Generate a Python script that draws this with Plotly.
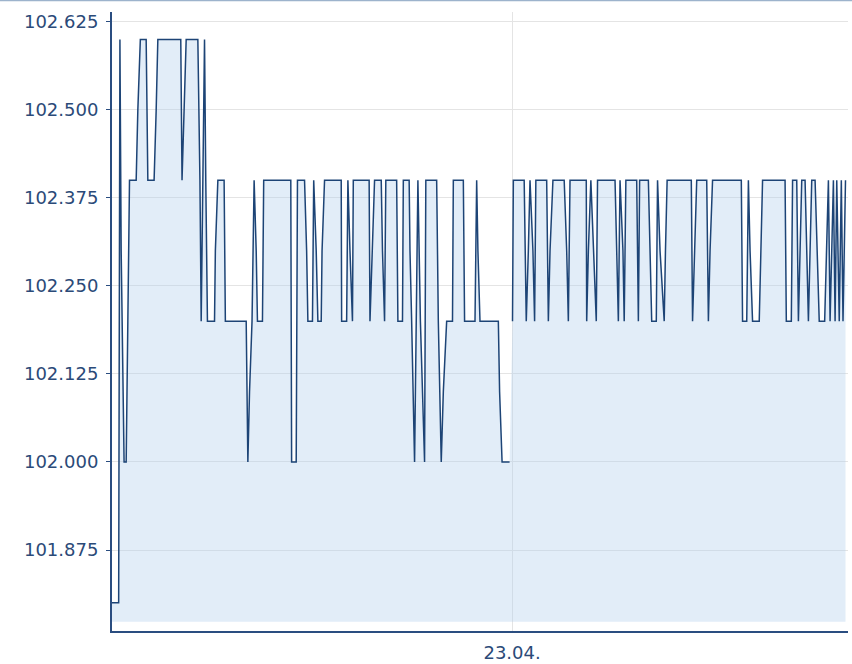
import pandas as pd
import plotly.graph_objects as go

# ---- data (minutes after midnight of each day, price) ----
DAY1_DATE = "2024-04-22"
DAY1_MIN = [480, 496, 499, 502, 509, 514, 518, 522, 538, 542, 548, 562, 566, 581, 586, 590,
            645, 648, 653, 658, 686, 691, 694, 702, 705, 709, 726, 728, 734, 749, 752, 802,
            806, 810, 816, 821, 826, 829, 841, 844, 909, 911, 922, 925, 942, 947, 950, 961,
            964, 970, 974, 982, 984, 990, 1030, 1031, 1043, 1046, 1051, 1057, 1059, 1097,
            1099, 1105, 1110, 1126, 1129, 1134, 1137, 1163, 1166, 1177, 1179, 1193, 1195,
            1199, 1206, 1210, 1214, 1220, 1230, 1233, 1259, 1263, 1270, 1275, 1283, 1297,
            1299, 1323, 1326, 1351, 1355, 1358, 1363, 1407, 1410, 1416, 1434]
DAY1_VAL = [101.8, 101.8, 102.6, 102.3, 102.0, 102.0, 102.2, 102.4, 102.4, 102.5, 102.6, 102.6,
            102.4, 102.4, 102.5, 102.6, 102.6, 102.4, 102.5, 102.6, 102.6, 102.4, 102.2, 102.6,
            102.4, 102.2, 102.2, 102.3, 102.4, 102.4, 102.2, 102.2, 102.0, 102.1, 102.2, 102.4,
            102.3, 102.2, 102.2, 102.4, 102.4, 102.0, 102.0, 102.4, 102.4, 102.3, 102.2, 102.2,
            102.4, 102.3, 102.2, 102.2, 102.3, 102.4, 102.4, 102.2, 102.2, 102.4, 102.3, 102.2,
            102.4, 102.4, 102.2, 102.3, 102.4, 102.4, 102.3, 102.2, 102.4, 102.4, 102.2, 102.2,
            102.4, 102.4, 102.3, 102.2, 102.0, 102.2, 102.4, 102.2, 102.0, 102.4, 102.4, 102.2,
            102.0, 102.1, 102.2, 102.2, 102.4, 102.4, 102.2, 102.2, 102.4, 102.3, 102.2, 102.2,
            102.1, 102.0, 102.0]

DAY2_DATE = "2024-04-23"
DAY2_MIN = [1, 3, 29, 34, 39, 43, 50, 54, 57, 83, 87, 91, 98, 125, 131, 135, 139, 178, 179,
            183, 189, 195, 202, 205, 247, 251, 255, 259, 266, 269, 273, 299, 301, 303, 306,
            327, 331, 335, 346, 349, 355, 365, 368, 372, 430, 433, 438, 443, 467, 471, 475,
            481, 550, 553, 563, 567, 571, 577, 593, 597, 601, 655, 658, 670, 673, 683, 687,
            691, 695, 703, 711, 715, 719, 727, 732, 737, 750, 755, 759, 763, 767, 771, 775,
            779, 785, 790, 794, 797, 800]
DAY2_VAL = [102.2, 102.4, 102.4, 102.2, 102.3, 102.4, 102.3, 102.2, 102.4, 102.4, 102.2, 102.3,
            102.4, 102.4, 102.3, 102.2, 102.4, 102.4, 102.2, 102.3, 102.4, 102.3, 102.2, 102.4,
            102.4, 102.3, 102.2, 102.4, 102.3, 102.2, 102.4, 102.4, 102.3, 102.2, 102.4, 102.4,
            102.3, 102.2, 102.2, 102.4, 102.3, 102.2, 102.3, 102.4, 102.4, 102.2, 102.3, 102.4,
            102.4, 102.2, 102.3, 102.4, 102.4, 102.2, 102.2, 102.4, 102.3, 102.2, 102.2, 102.3,
            102.4, 102.4, 102.2, 102.2, 102.4, 102.4, 102.2, 102.3, 102.4, 102.4, 102.2, 102.3,
            102.4, 102.4, 102.3, 102.2, 102.2, 102.3, 102.4, 102.2, 102.3, 102.4, 102.2, 102.4,
            102.2, 102.4, 102.2, 102.3, 102.4]

FILL_BASE = 101.773
Y_RANGE = [101.760, 102.639]
Y_TICKS = [101.875, 102.0, 102.125, 102.25, 102.375, 102.5, 102.625]
X_RANGE = ["2024-04-22 08:00", "2024-04-23 13:26"]
X_TICKS = ["2024-04-23 00:00"]
X_TICKTEXT = ["23.04."]

# ---- build ----
t1 = list(pd.Timestamp(DAY1_DATE) + pd.to_timedelta(DAY1_MIN, unit="min"))
t2 = list(pd.Timestamp(DAY2_DATE) + pd.to_timedelta(DAY2_MIN, unit="min"))
t_all = t1 + t2
v_all = DAY1_VAL + DAY2_VAL

LINE = "#1d4476"
AXIS = "#2a4d80"
TXT = "#2b4a78"
GRID = "#e4e4e4"

fig = go.Figure()
fig.add_trace(go.Scatter(x=[t_all[0], t_all[-1]], y=[FILL_BASE, FILL_BASE], mode="lines",
                         line=dict(width=0), hoverinfo="skip", showlegend=False))
fig.add_trace(go.Scatter(x=t_all, y=v_all, mode="lines", fill="tonexty",
                         fillcolor="rgba(175,206,235,0.36)", line=dict(width=0),
                         hoverinfo="skip", showlegend=False))
fig.add_trace(go.Scatter(x=t1 + [None] + t2, y=DAY1_VAL + [None] + DAY2_VAL, mode="lines",
                         line=dict(color=LINE, width=1.5), connectgaps=False, showlegend=False))

plot_h = 664 - 12 - 33
fig.update_layout(
    width=852, height=664,
    margin=dict(l=112, r=4, t=12, b=33, autoexpand=False),
    paper_bgcolor="white", plot_bgcolor="white",
    font=dict(family="DejaVu Sans", size=18, color=TXT),
    xaxis=dict(type="date", range=X_RANGE, tickvals=X_TICKS, ticktext=X_TICKTEXT,
               automargin=False,
               showgrid=True, gridcolor=GRID, gridwidth=1, zeroline=False,
               showline=True, linecolor=AXIS, linewidth=2, ticks="", ticklabelstandoff=4,
               tickfont=dict(family="DejaVu Sans", size=18, color=TXT)),
    yaxis=dict(range=Y_RANGE, tickvals=Y_TICKS, tickformat=".3f", automargin=False,
               showgrid=True, gridcolor=GRID, gridwidth=1, zeroline=False,
               showline=True, linecolor=AXIS, linewidth=2, ticks="outside", ticklen=4,
               tickcolor=AXIS, tickwidth=1, ticklabelstandoff=4,
               tickfont=dict(family="DejaVu Sans", size=18, color=TXT)),
    shapes=[dict(type="line", xref="paper", yref="paper",
                 x0=-112 / 736, x1=1 + 4 / 736,
                 y0=1 + 11.5 / plot_h, y1=1 + 11.5 / plot_h,
                 line=dict(color="#9db3cc", width=1.5))],
)

fig.write_html("out.html", config={"displayModeBar": False},
               post_script="document.body.style.margin='0px';document.body.style.overflow='hidden';")
